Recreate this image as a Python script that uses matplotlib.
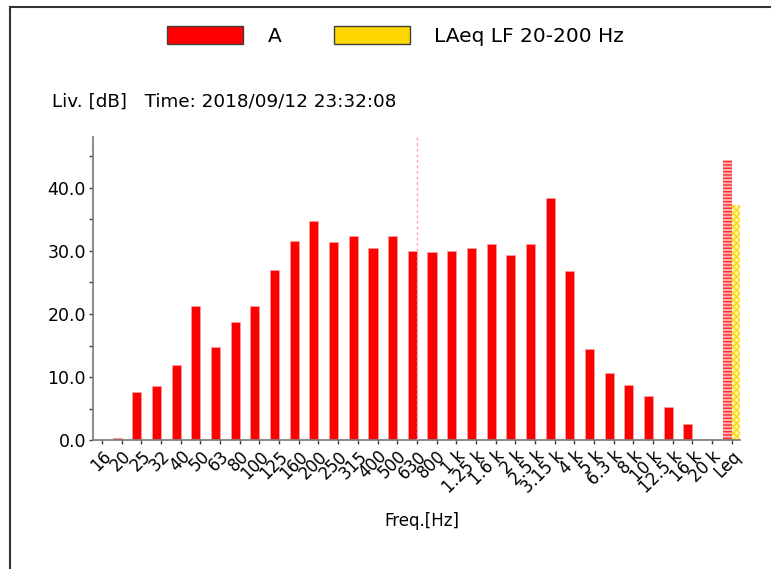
import numpy as np
import matplotlib.pyplot as plt
from matplotlib.patches import Patch
from matplotlib.lines import Line2D
from matplotlib.ticker import MultipleLocator, FormatStrFormatter

plt.rcParams['font.family'] = ['DejaVu Sans']
plt.rcParams['hatch.linewidth'] = 1.0

# third-octave bands + overall Leq
bands = ['16', '20', '25', '32', '40', '50', '63', '80', '100', '125', '160',
         '200', '250', '315', '400', '500', '630', '800', '1 k', '1.25 k',
         '1.6 k', '2 k', '2.5 k', '3.15 k', '4 k', '5 k', '6.3 k', '8 k',
         '10 k', '12.5 k', '16 k', '20 k']
level_A = [0.0, 0.35, 7.6, 8.6, 11.9, 21.3, 14.7, 18.8, 21.3, 26.9, 31.6,
           34.7, 31.4, 32.3, 30.5, 32.3, 30.0, 29.8, 30.0, 30.5, 31.0, 29.4,
           31.0, 38.4, 26.8, 14.4, 10.7, 8.8, 7.0, 5.2, 2.6, 0.2]
leq_A = 44.3
leq_LF = 37.3  # LAeq LF 20-200 Hz
cursor_band = '630'

labels = bands + ['Leq']
x = np.arange(len(labels))
w = 0.46

fig = plt.figure(figsize=(7.71, 5.69), dpi=100)
ax = fig.add_axes([93/771, 1 - 440.3/569, (740 - 93)/771, (440.3 - 137)/569])

# band bars sit left of their tick
ax.bar(x[:-1], level_A, width=-w, align='edge', color='#ff0000',
       edgecolor='#ff9a9a', linewidth=0.6)
# Leq bars, hatched
ax.bar(x[-1], leq_A, width=-w, align='edge', facecolor='#ffb0b0',
       edgecolor='#ff3030', hatch='-----', linewidth=0)
ax.bar(x[-1], leq_LF, width=w * 0.9, align='edge', facecolor='#fff6c0',
       edgecolor='#ffd700', hatch='xxxxx', linewidth=0)

ax.axvline(bands.index(cursor_band), color='#ff9ec0', lw=1,
           linestyle=(0, (2, 2)), zorder=3)

ax.set_xlim(-0.457, 32.42)
ax.set_ylim(0, 48)
ax.set_xticks(x)
ax.set_xticklabels(labels, rotation=45, ha='right', va='top',
                   rotation_mode='anchor', fontsize=12)
ax.yaxis.set_major_locator(MultipleLocator(10))
ax.yaxis.set_minor_locator(MultipleLocator(5))
ax.yaxis.set_major_formatter(FormatStrFormatter('%.1f'))
ax.tick_params(axis='y', labelsize=12.5, length=3, width=1, color='#404040', pad=2)
ax.tick_params(axis='y', which='minor', length=3, width=1, color='#404040')
ax.tick_params(axis='x', length=3, width=1, color='#404040', pad=2)

for s in ['top', 'right']:
    ax.spines[s].set_visible(False)
for s in ['left', 'bottom']:
    ax.spines[s].set_color('#808080')
    ax.spines[s].set_linewidth(1.3)

fig.text(52/771, 1 - 102/569, 'Liv. [dB]   Time: 2018/09/12 23:32:08',
         fontsize=13.2, ha='left', va='center')
fig.text(422/771, 1 - 521/569, 'Freq.[Hz]', fontsize=12, ha='center', va='center')

handles = [Patch(facecolor='#ff0000', edgecolor='#404040', linewidth=1),
           Patch(facecolor='#ffd700', edgecolor='#404040', linewidth=1)]
fig.legend(handles, ['A', 'LAeq LF 20-200 Hz'], loc='center', ncol=2,
           bbox_to_anchor=(395.5/771, 1 - 36/569), frameon=False, fontsize=14.5,
           handlelength=3.8, handleheight=1.0, handletextpad=1.2,
           columnspacing=2.6)

# window frame (top and left edges)
fig.add_artist(Line2D([10/771, 1], [1 - 7/569, 1 - 7/569], color='#333333', lw=1.5))
fig.add_artist(Line2D([10/771, 10/771], [0, 1 - 7/569], color='#333333', lw=1.5))

fig.savefig('out.png', dpi=100)
